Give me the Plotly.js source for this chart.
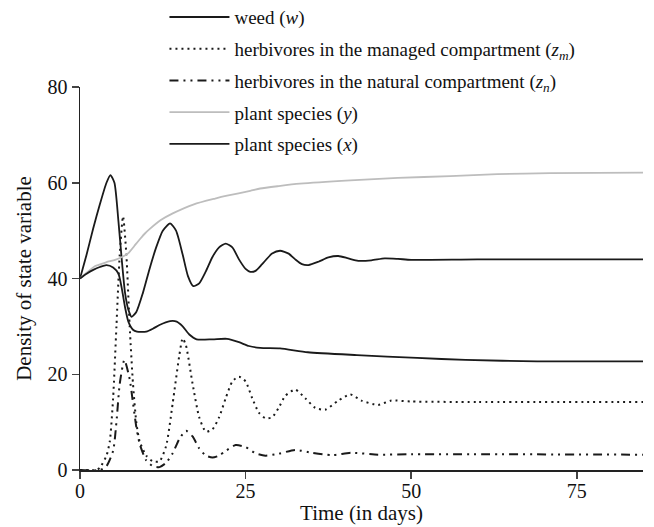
<!DOCTYPE html>
<html>
<head>
<meta charset="utf-8">
<script src="https://cdn.plot.ly/plotly-3.0.1.min.js"></script>
<style>html,body{margin:0;padding:0;background:#fff;}#chart{width:654px;height:527px;}</style>
</head>
<body>
<div id="chart"></div>
<script>
// Weed (w)
const wT = [0,1,2,3,4,4.6,5.2,5.8,6.3,6.8,7.3,7.8,8.5,9.5,10.5,11.5,12.5,13.6,14.5,15.5,16.3,17.1,18,19,20,21,22,23,24,25,25.7,26.5,27.5,29,30.2,31.5,32.5,33.5,34.5,36,37.5,39,40.5,42,44,46,48,50,60,85];
const wV = [40,45,50.5,55.5,60,61.6,60,52,44,37,33.5,32,33,37,42,46.5,50,51.5,50,45,40.5,38.4,39,41.5,44.5,46.5,47.3,46.5,44,42,41.4,41.6,43,45.2,45.8,45.2,44,43,42.8,43.5,44.4,44.7,44.2,43.7,43.8,44.2,44.1,43.9,44,44];
// Herbivores in managed compartment (z_m)
const zmT = [0,2.5,3,4,4.5,5,5.5,6,6.5,7,7.5,8,8.5,9,10,11,12,13,14,15,15.5,16,17,18,19,20,21,22,23,24,25,26,27,28,29,30,31,32.5,34,35.5,37,39,40.8,42.5,45,47,50,60,85];
const zmV = [0,0,0.5,3,6,15,30,45,53,45,30,18,10,6,3,1.8,1.8,5,14,24,27.5,26,18,11,8,8.5,11,15,18.5,19.5,18.5,15,12,10.8,11,13,15.5,16.8,15,13,12.6,14.5,15.8,14.5,13.6,14.5,14.3,14.2,14.2];
// Herbivores in natural compartment (z_n)
const znT = [0,3,4,5,5.5,6,6.7,7.5,8,8.5,9,10,11,12,13,14,15,16,17,18,19,20,21,22,23.5,25,26.5,28,30,32.5,35,38,41,45,50,85];
const znV = [0,0,0.8,4,10,18,23,19,14,9,5.5,2,0.8,0.6,1.5,3.5,6.5,8.2,7,4.5,3,2.6,3,4,5.2,4.8,3.5,3,3.4,4.2,3.6,3.1,3.6,3.2,3.3,3.2];
// Plant species (y)
const yT = [0,1,2.3,4,5.3,6.5,7.3,8.2,9.1,9.8,10.5,12.2,14,17.2,20.4,22.2,25.7,27.2,30,33.2,40.8,48,55.9,63,71,85];
const yV = [40,41.2,42.6,43.4,43.9,44.6,45.3,46.8,48.3,49.4,50.3,52.2,53.6,55.5,56.7,57.3,58.3,58.8,59.3,59.8,60.5,61,61.4,61.8,62,62.1];
// Plant species (x)
const xT = [0,1,2,3,4,5,5.8,6.3,6.8,7.3,8,8.6,10,11,12,13.6,14.6,15.5,16.5,17.6,20,22.2,24,25.5,27.2,30.2,34.4,41.8,50.9,58.2,69,85];
const xV = [40,41,41.8,42.4,42.8,42.3,41,38,34,31,29.3,28.9,28.9,29.5,30.3,31.1,31,30,28.3,27.3,27.3,27.4,26.7,25.9,25.5,25.4,24.6,24,23.4,23,22.7,22.7];

const names = [
  'weed (<i>w</i>)',
  'herbivores in the managed compartment (<i>z<sub>m</sub></i>)',
  'herbivores in the natural compartment (<i>z<sub>n</sub></i>)',
  'plant species (<i>y</i>)',
  'plant species (<i>x</i>)'
];

const traces = [
  {x: wT, y: wV, name: names[0], legendgroup: 'a', line: {color: '#1a1a1a', width: 1.8}},
  {x: zmT, y: zmV, name: names[1], legendgroup: 'b', line: {color: '#1a1a1a', width: 2, dash: '2px,4px'}},
  {x: znT, y: znV, name: names[2], legendgroup: 'c', line: {color: '#1a1a1a', width: 2, dash: '9px,5px,2px,5px,2px,5px'}},
  {x: yT, y: yV, name: names[3], legendgroup: 'd', line: {color: '#bdbdbd', width: 1.8}},
  {x: xT, y: xV, name: names[4], legendgroup: 'e', line: {color: '#1a1a1a', width: 1.8}}
].map(t => Object.assign({type: 'scatter', mode: 'lines'}, t, {line: Object.assign({shape: 'spline', smoothing: 0.6}, t.line)}));

const fam = '"Liberation Serif", "Times New Roman", serif';

const layout = {
  width: 654, height: 527,
  margin: {l: 80, r: 11, t: 87, b: 57, autoexpand: false},
  paper_bgcolor: '#fff', plot_bgcolor: '#fff',
  font: {family: fam, color: '#111', size: 19},
  showlegend: true,
  legend: {
    x: 0.15, xanchor: 'left', y: 1.232, yanchor: 'top',
    font: {family: fam, size: 19, color: '#111'},
    tracegroupgap: 4, traceorder: 'grouped', itemwidth: 60,
    bgcolor: 'rgba(0,0,0,0)'
  },
  xaxis: {
    range: [0, 85], tickvals: [0, 25, 50, 75], ticks: 'outside', ticklen: 7, tickwidth: 1.5,
    ticklabelstandoff: -5,
    showline: true, linecolor: '#222', linewidth: 1.5, showgrid: false, zeroline: false,
    tickfont: {family: fam, size: 20, color: '#111'},
    title: {text: 'Time (in days)', font: {family: fam, size: 21, color: '#111'}, standoff: 0}
  },
  yaxis: {
    range: [0, 80], tickvals: [0, 20, 40, 60, 80], ticks: 'outside', ticklen: 7, tickwidth: 1.5,
    showline: true, linecolor: '#222', linewidth: 1.5, showgrid: false, zeroline: false,
    tickfont: {family: fam, size: 20, color: '#111'},
    title: {text: 'Density of state variable', font: {family: fam, size: 21, color: '#111'}, standoff: 10}
  }
};

Plotly.newPlot('chart', traces, layout, {displayModeBar: false, staticPlot: true});
</script>
</body>
</html>
